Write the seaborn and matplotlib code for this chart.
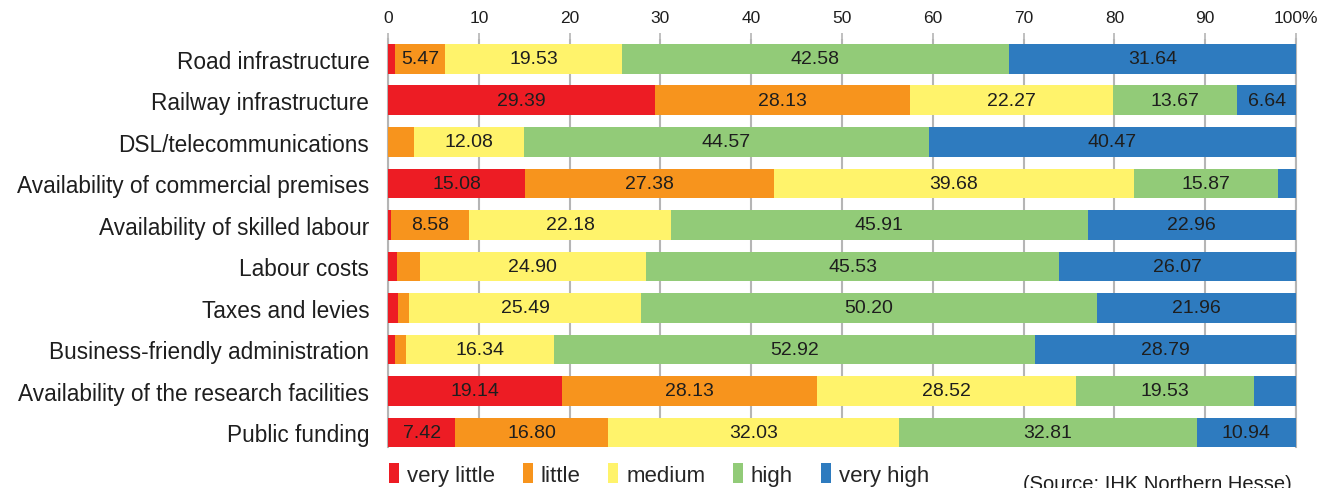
import numpy as np
import pandas as pd
import matplotlib
matplotlib.use("Agg")
import matplotlib.pyplot as plt
from matplotlib.patches import Patch
import seaborn as sns

# Survey: rating of location factors (share of answers, %)
factors = [
    "Road infrastructure",
    "Railway infrastructure",
    "DSL/telecommunications",
    "Availability of commercial premises",
    "Availability of skilled labour",
    "Labour costs",
    "Taxes and levies",
    "Business-friendly administration",
    "Availability of the research facilities",
    "Public funding",
]
levels = ["very little", "little", "medium", "high", "very high"]

very_little = [0.78, 29.39, 0.00, 15.08, 0.37, 1.00, 1.15, 0.75, 19.14, 7.42]
little      = [5.47, 28.13, 2.88, 27.38, 8.58, 2.50, 1.20, 1.20, 28.13, 16.80]
medium      = [19.53, 22.27, 12.08, 39.68, 22.18, 24.90, 25.49, 16.34, 28.52, 32.03]
high        = [42.58, 13.67, 44.57, 15.87, 45.91, 45.53, 50.20, 52.92, 19.53, 32.81]
very_high   = [31.64, 6.64, 40.47, 1.99, 22.96, 26.07, 21.96, 28.79, 4.68, 10.94]

tick_values = [0, 10, 20, 30, 40, 50, 60, 70, 80, 90, 100]
tick_labels = ["0", "10", "20", "30", "40", "50", "60", "70", "80", "90", "100%"]

colors = ["#ED1C24", "#F7941D", "#FFF36B", "#92CB78", "#2E7BBF"]

series = [very_little, little, medium, high, very_high]
df = pd.DataFrame({lvl: vals for lvl, vals in zip(levels, series)}, index=factors)
cum = df.cumsum(axis=1)

sns.set_theme(style="white")
plt.rcParams["font.family"] = ["Liberation Sans", "DejaVu Sans"]

fig = plt.figure(figsize=(13.19, 4.89), dpi=100)
ax = fig.add_axes([0.2942, 0.0838, 0.6884, 0.8344])

# Stacked bars: draw cumulative totals from the outermost level inwards
for lvl, col in reversed(list(zip(levels, colors))):
    sns.barplot(x=cum[lvl].values, y=factors, color=col, orient="h",
                width=0.72, saturation=1, ax=ax, zorder=2, linewidth=0)

# Value labels centred in each segment large enough to hold them
for i, fac in enumerate(factors):
    start = 0.0
    for lvl in levels:
        v = df.loc[fac, lvl]
        if v >= 5:
            ax.text(start + v / 2, i, f"{v:.2f}", ha="center", va="center",
                    fontsize=14, color="#1e1e1e", zorder=3)
        start += v

ax.set_xlim(0, 100)
ax.set_ylim(9.35, -0.48)
ax.set_xlabel("")
ax.set_ylabel("")
ax.xaxis.tick_top()
ax.set_xticks(tick_values)
ax.set_xticklabels(tick_labels)
ax.tick_params(axis="x", which="both", top=True, length=4, width=1.2, color="#b5b5b5",
               labelsize=12.5, labelcolor="#1e1e1e", pad=6)
ax.tick_params(axis="y", length=0, labelsize=16.3, labelcolor="#1e1e1e", pad=13.5)
ax.grid(axis="x", color="#b5b5b5", linewidth=1.5, zorder=0)
ax.set_axisbelow(True)
for side in ["top", "bottom"]:
    ax.spines[side].set_visible(False)
for side in ["left", "right"]:
    ax.spines[side].set_color("#b5b5b5")
    ax.spines[side].set_linewidth(1.5)
    ax.spines[side].set_zorder(1)

handles = [Patch(facecolor=c, edgecolor="none", label=l) for c, l in zip(colors, levels)]
fig.legend(handles=handles, loc="lower left", bbox_to_anchor=(0.2885, -0.014), ncol=5,
           frameon=False, fontsize=16, handlelength=0.45, handleheight=1.0,
           handletextpad=0.35, columnspacing=1.25, borderaxespad=0)

fig.text(0.9795, 0.028, "(Source: IHK Northern Hesse)", ha="right", va="top",
         fontsize=14.5, color="#1e1e1e")

fig.savefig("out.png", dpi=100)
